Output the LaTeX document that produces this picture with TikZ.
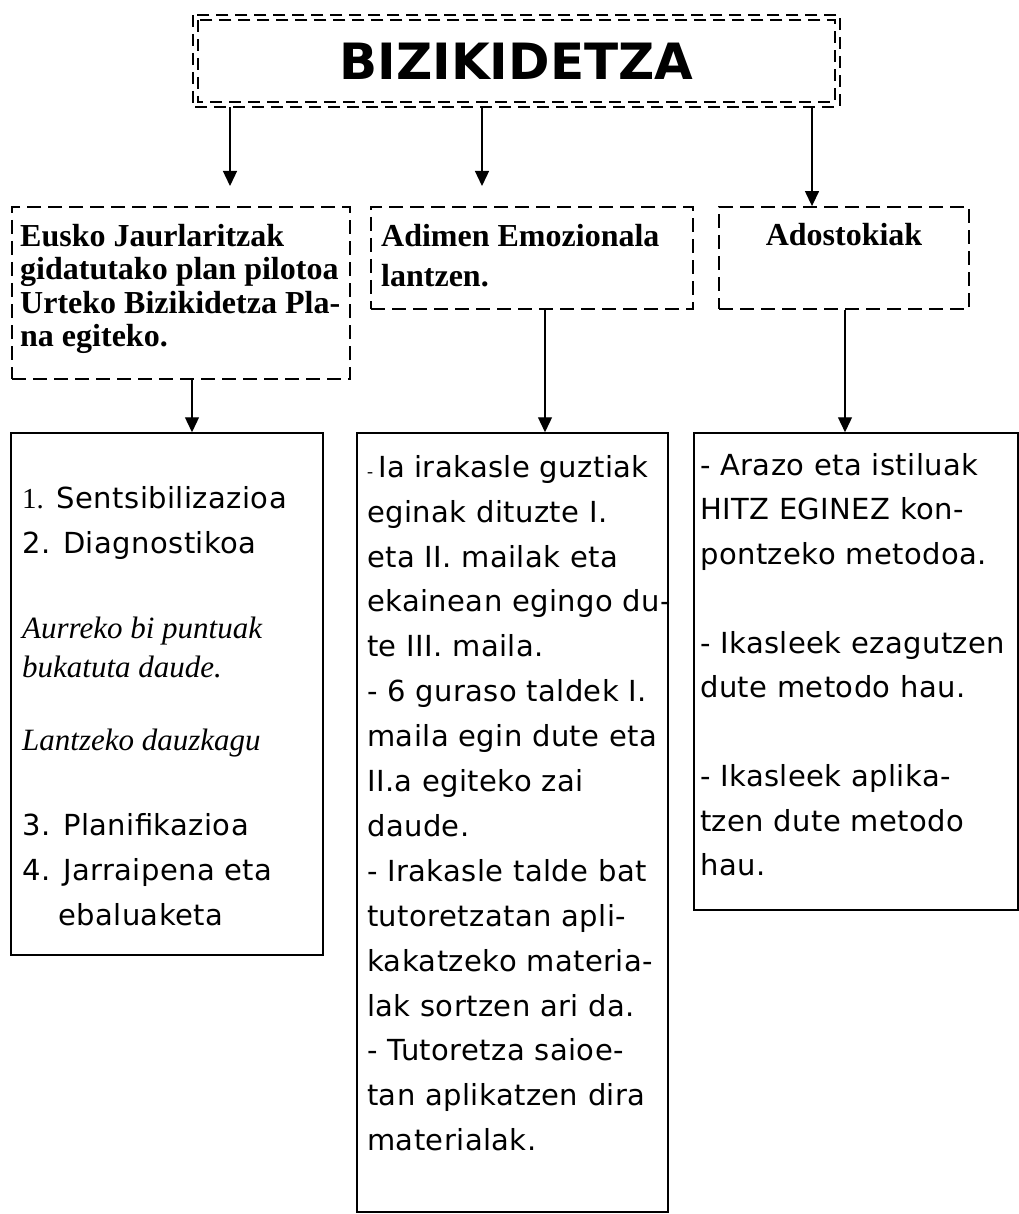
\documentclass[tikz,border=0pt]{standalone}
\usepackage{fontspec}
\setmainfont{Liberation Serif}
\newfontfamily\comic[LetterSpace=1.5]{DejaVu Sans}
\newfontfamily\titlefont{DejaVu Sans}
\usetikzlibrary{arrows.meta}
\begin{document}
\begin{tikzpicture}[x=1pt,y=-1pt,
 arr/.style={line width=1.3pt,-{Triangle[length=15pt,width=14pt]}},
 dbox/.style={draw,line width=1.8pt,dash pattern=on 14pt off 7pt,inner sep=0},
 sbox/.style={draw,line width=1.5pt,inner sep=0},
 tdash/.style={line width=2.2pt,dash pattern=on 12pt off 7pt},
 btext/.style={anchor=north west,inner sep=0,align=left,font=\bfseries\fontsize{32}{33.5}\selectfont},
 ctext/.style={anchor=north west,inner sep=0,align=left,font=\comic\fontsize{29}{44.9}\selectfont},
]
\useasboundingbox (0,0) rectangle (1018,1214);
% title
\node[minimum width=647pt,minimum height=92pt,inner sep=0,
      font=\titlefont\bfseries\fontsize{50}{50}\selectfont] (title) at (516.5,61) {BIZIKIDETZA};
\draw[tdash] (title.north west) rectangle (title.south east);
\draw[tdash] ([shift={(5,5)}]title.north west) rectangle ([shift={(-5,-5)}]title.south east);

% dashed boxes
\node[dbox,minimum width=338pt,minimum height=172pt] (d1) at (181,293) {};
\node[dbox,minimum width=322pt,minimum height=102pt] (d2) at (532,258) {};
\node[dbox,minimum width=250pt,minimum height=102pt] (d3) at (844,258) {};

\node[btext] (d1t) at (20,220) {\rule{0pt}{26pt}Eusko Jaurlaritzak\\gidatutako plan pilotoa\\Urteko Bizikidetza Pla-\\na egiteko.};
\node[btext,font=\bfseries\fontsize{32}{40}\selectfont] (d2t) at (381,220) {\rule{0pt}{26pt}Adimen Emozionala\\lantzen.};
\node[anchor=base,inner sep=0,font=\bfseries\fontsize{32}{33.5}\selectfont] (d3t) at (844,246) {Adostokiak};

% solid boxes
\node[sbox,minimum width=312pt,minimum height=522pt] (s1) at (167,694) {};
\node[sbox,minimum width=311pt,minimum height=779pt] (s2) at (512.5,822.5) {};
\node[sbox,minimum width=324pt,minimum height=477pt] (s3) at (856,671.5) {};

% arrows
\coordinate (a1) at (230,186);
\coordinate (a2) at (482,186);
\coordinate (a3) at (812,0);
\draw[arr] (title.south -| a1) -- (a1);
\draw[arr] (title.south -| a2) -- (a2);
\draw[arr] (title.south -| a3) -- (d3.north -| a3);
\coordinate (b1) at (192,0);
\coordinate (b2) at (545,0);
\coordinate (b3) at (845,0);
\draw[arr] (d1.south -| b1) -- (s1.north -| b1);
\draw[arr] (d2.south -| b2) -- (s2.north -| b2);
\draw[arr] (d3.south -| b3) -- (s3.north -| b3);

% left content
\node[ctext] (l1) at (22,482) {\rule{0pt}{26pt}{\rmfamily 1.} Sentsibilizazioa\\2. Diagnostikoa};
\node[anchor=north west,inner sep=0,align=left,font=\itshape\fontsize{31}{39}\selectfont] (l2) at (22,612) {\rule{0pt}{26pt}Aurreko bi puntuak\\bukatuta daude.};
\node[anchor=base west,inner sep=0,font=\itshape\fontsize{31}{39}\selectfont] (l3) at (22,750) {Lantzeko dauzkagu};
\node[ctext] (l4) at (22,809) {\rule{0pt}{26pt}3. Planifikazioa\\4. Jarraipena eta\\\hspace*{36pt}ebaluaketa};

% middle content
\node[ctext] (m) at (367,451) {\rule{0pt}{26pt}{\rmfamily\fontsize{18}{18}\selectfont -}\,Ia irakasle guztiak\\eginak dituzte I.\\eta II. mailak eta\\ekainean egingo du-\\te III. maila.\\- 6 guraso taldek I.\\maila egin dute eta\\II.a egiteko zai\\daude.\\- Irakasle talde bat\\tutoretzatan apli-\\kakatzeko materia-\\lak sortzen ari da.\\- Tutoretza saioe-\\tan aplikatzen dira\\materialak.};

% right content
\node[ctext,font=\comic\fontsize{29}{44.5}\selectfont] (r) at (700,449) {\rule{0pt}{26pt}- Arazo eta istiluak\\HITZ EGINEZ kon-\\pontzeko metodoa.\\[44.5pt]- Ikasleek ezagutzen\\dute metodo hau.\\[44.5pt]- Ikasleek aplika-\\tzen dute metodo\\hau.};
\end{tikzpicture}
\end{document}
